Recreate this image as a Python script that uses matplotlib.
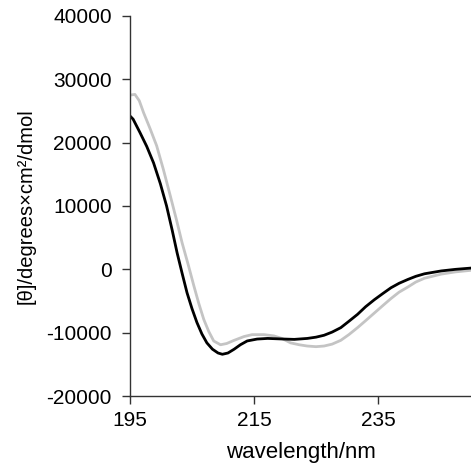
import numpy as np
import matplotlib.pyplot as plt

plt.rcParams['font.family'] = ['Liberation Sans', 'DejaVu Sans']
plt.rcParams['axes.unicode_minus'] = False

# black trace
wl_black = [195.0, 195.5, 196.6, 197.7, 198.8, 199.9, 200.9, 201.8, 202.6, 203.4,
            204.2, 205.0, 205.8, 206.6, 207.4, 208.3, 209.2, 209.9, 210.8, 211.8,
            212.8, 213.9, 215.5, 217.2, 219.9, 221.5, 223.6, 225.0, 226.3, 227.6,
            229.0, 230.3, 231.7, 233.0, 234.4, 235.8, 237.1, 238.4, 239.8, 241.1,
            242.5, 245.2, 247.5, 250.0]
th_black = [24200, 23700, 21600, 19400, 16800, 13500, 10000, 6200, 2600, -600,
            -3700, -6200, -8400, -10200, -11600, -12600, -13200, -13400, -13200, -12600,
            -11900, -11300, -11000, -10900, -11000, -11050, -10900, -10700, -10400, -9900,
            -9200, -8200, -7100, -5900, -4800, -3800, -2900, -2200, -1600, -1100,
            -700, -250, 0, 200]

# grey trace
wl_grey = [195.0, 195.8, 196.5, 197.2, 198.2, 199.3, 200.4, 201.5, 202.5, 203.4,
           204.4, 205.3, 206.1, 206.9, 207.7, 208.5, 209.6, 210.6, 211.8, 213.4,
           214.7, 216.6, 218.2, 219.5, 220.9, 222.3, 223.6, 225.0, 226.3, 227.6,
           229.0, 230.3, 231.7, 233.0, 234.4, 235.8, 237.1, 238.4, 239.8, 241.1,
           242.5, 245.2, 247.5, 250.0]
th_grey = [27500, 27600, 26600, 24700, 22300, 19500, 15700, 11600, 7800, 4200,
           700, -2600, -5400, -7900, -9800, -11300, -11900, -11700, -11200, -10600,
           -10300, -10300, -10500, -10900, -11600, -11900, -12100, -12200, -12100, -11800,
           -11200, -10300, -9200, -8100, -6900, -5700, -4600, -3600, -2800, -2000,
           -1400, -750, -400, -150]

fig = plt.figure(figsize=(4.71, 4.66), dpi=100)
ax = fig.add_axes([0.276, 0.150, 0.724, 0.816])

ax.plot(wl_grey, th_grey, color='#c4c4c4', lw=2.0)
ax.plot(wl_black, th_black, color='black', lw=2.0)

ax.set_xlim(195, 250)
ax.set_ylim(-20000, 40000)
ax.set_xticks([195, 215, 235])
ax.set_yticks(np.arange(-20000, 40001, 10000))

for s in ['top', 'right']:
    ax.spines[s].set_visible(False)
for s in ['left', 'bottom']:
    ax.spines[s].set_color('#333333')
    ax.spines[s].set_linewidth(1.0)

ax.tick_params(direction='out', length=6, width=1, color='#333333', labelsize=15)
ax.tick_params(axis='y', pad=7)
ax.tick_params(axis='x', pad=4.5)
ax.set_xlabel('wavelength/nm', fontsize=16, labelpad=9)
ax.set_ylabel('[θ]/degrees×cm²/dmol', fontsize=14.5, labelpad=8)

fig.savefig('out.png', dpi=100)
